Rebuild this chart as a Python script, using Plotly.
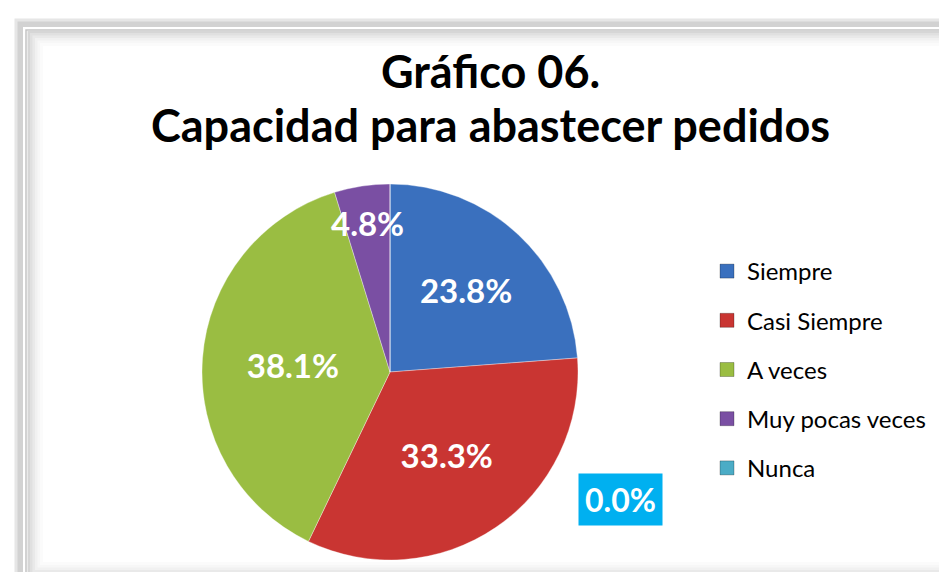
import math
import plotly.graph_objects as go

# Data
categories = ["Siempre", "Casi Siempre", "A veces", "Muy pocas veces", "Nunca"]
counts = [5, 7, 8, 1, 0]
colors = ["#3A70BE", "#C93532", "#9ABD42", "#7A4FA3", "#4BACC6"]
title_lines = ["Gráfico 06.", "Capacidad para abastecer pedidos"]

W, H = 947, 572
FONT = "Lato, 'Open Sans', sans-serif"
total = sum(counts)
fracs = [v / total for v in counts]
pct_text = [f"{f * 100:.1f}%" for f in fracs]

# pie placement (pixels)
CX, CY, R = 382, 364, 188
text_pos = ["inside" if f >= 0.1 else "none" for f in fracs]

fig = go.Figure()

fig.add_trace(go.Pie(
    labels=categories,
    values=counts,
    text=pct_text,
    textinfo="text",
    textposition=text_pos,
    insidetextorientation="horizontal",
    sort=False,
    direction="clockwise",
    rotation=0,
    marker=dict(colors=colors, line=dict(color="rgba(255,255,255,0.35)", width=1)),
    textfont=dict(family=FONT, size=33, color="white", weight="bold"),
    domain=dict(x=[(CX - R) / W, (CX + R) / W], y=[1 - (CY + R) / H, 1 - (CY - R) / H]),
    showlegend=False,
    hoverinfo="label+percent",
))

# Legend entries (dummy traces for spacing control)
for lab, col in zip(categories, colors):
    fig.add_trace(go.Scatter(
        x=[None], y=[None], mode="markers", name=lab, legendgroup=lab,
        marker=dict(symbol="square", size=14, color=col,
                    line=dict(color="rgba(0,0,0,0.25)", width=1)),
        hoverinfo="skip",
    ))

# Labels for small slices
cum = 0.0
for i, f in enumerate(fracs):
    mid = cum + f / 2
    cum += f
    if f >= 0.1:
        continue
    if f > 0:
        ang = 2 * math.pi * mid
        px = CX + 0.8 * R * math.sin(ang)
        py = CY - 0.8 * R * math.cos(ang)
        fig.add_annotation(
            x=px / W, y=1 - py / H, xref="paper", yref="paper",
            text=f"<b>{pct_text[i]}</b>", showarrow=False,
            font=dict(family=FONT, size=33, color="white"),
        )
    else:
        fig.add_annotation(
            x=612 / W, y=1 - 518 / H, xref="paper", yref="paper",
            text=f"<b>{pct_text[i]}</b>", showarrow=False,
            font=dict(family=FONT, size=32, color="white"),
            bgcolor="#00B0F0", borderpad=6,
        )

# Title as annotations
for k, line in enumerate(title_lines):
    fig.add_annotation(
        x=482 / W, y=1 - (63 + 54 * k) / H, xref="paper", yref="paper",
        text=f"<b>{line}</b>", showarrow=False, yanchor="middle",
        font=dict(family=FONT, size=45, color="black"),
    )

# Frame shapes (pixel -> paper)
def rect(x0, y0, x1, y1, color, width):
    return dict(type="rect", xref="paper", yref="paper",
                x0=x0 / W, x1=x1 / W, y0=1 - y0 / H, y1=1 - y1 / H,
                line=dict(color=color, width=width),
                fillcolor="rgba(0,0,0,0)", layer="below")

shapes = []
shapes.append(rect(11, 15, 955, 580, "#d2d2d2", 8))
shapes.append(rect(8, 12, 958, 583, "#e6e6e6", 3))
shapes.append(rect(16, 20, 950, 577, "#ffffff", 1.5))
shapes.append(rect(18, 22, 948, 575, "#c4c4c4", 1.5))
for k, c in enumerate(["#d6d6d6", "#e0e0e0", "#e9e9e9", "#f1f1f1", "#f7f7f7", "#fbfbfb"]):
    o = 21 + k * 2.5
    shapes.append(rect(o, o + 3, 946 - k * 2.5, 572 - o + 17, c, 3))
shapes.append(dict(type="line", xref="paper", yref="paper", x0=943 / W, x1=943 / W,
                   y0=0, y1=1 - 22 / H, line=dict(color="#d0d0d0", width=6), layer="below"))
shapes.append(dict(type="line", xref="paper", yref="paper", x0=18 / W, x1=1,
                   y0=4 / H, y1=4 / H, line=dict(color="#cfcfcf", width=8), layer="below"))

fig.update_layout(
    width=W, height=H,
    margin=dict(l=0, r=0, t=0, b=0),
    paper_bgcolor="white", plot_bgcolor="white",
    shapes=shapes,
    legend=dict(
        x=699 / W, y=1 - 241 / H, xanchor="left", yanchor="top",
        font=dict(family=FONT, size=24, color="black"),
        tracegroupgap=15, itemwidth=30, bgcolor="rgba(0,0,0,0)",
        traceorder="grouped",
    ),
    xaxis=dict(visible=False), yaxis=dict(visible=False),
)

fig.write_html("out.html")
